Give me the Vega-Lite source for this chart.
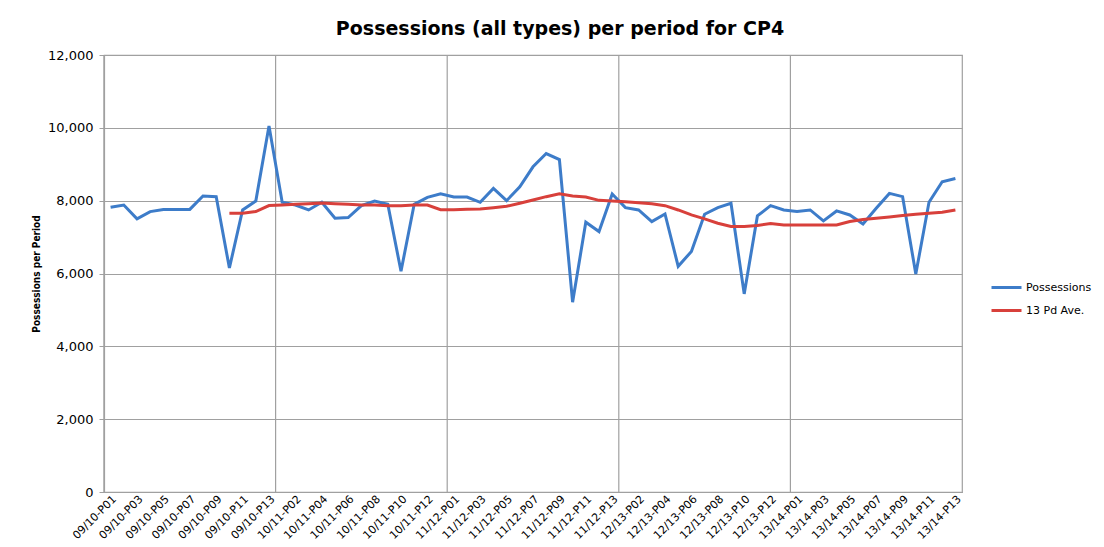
{
  "$schema": "https://vega.github.io/schema/vega-lite/v6.json",
  "autosize": {"type": "none"},
  "width": 858,
  "height": 437,
  "padding": {"left": 104, "top": 55, "right": 142, "bottom": 55},
  "background": "white",
  "title": {
    "text": "Possessions (all types) per period for CP4",
    "font": "DejaVu Sans",
    "fontSize": 19,
    "fontWeight": "bold",
    "color": "#000000",
    "anchor": "middle",
    "dx": 27,
    "offset": 10
  },
  "data": {
    "values": [
      {"period": "09/10-P01", "Possessions": 7818, "Ave": null},
      {"period": "09/10-P02", "Possessions": 7880, "Ave": null},
      {"period": "09/10-P03", "Possessions": 7500, "Ave": null},
      {"period": "09/10-P04", "Possessions": 7700, "Ave": null},
      {"period": "09/10-P05", "Possessions": 7760, "Ave": null},
      {"period": "09/10-P06", "Possessions": 7760, "Ave": null},
      {"period": "09/10-P07", "Possessions": 7760, "Ave": null},
      {"period": "09/10-P08", "Possessions": 8130, "Ave": null},
      {"period": "09/10-P09", "Possessions": 8110, "Ave": null},
      {"period": "09/10-P10", "Possessions": 6150, "Ave": 7655},
      {"period": "09/10-P11", "Possessions": 7745, "Ave": 7655},
      {"period": "09/10-P12", "Possessions": 7990, "Ave": 7700},
      {"period": "09/10-P13", "Possessions": 10050, "Ave": 7865},
      {"period": "10/11-P01", "Possessions": 7955, "Ave": 7880},
      {"period": "10/11-P02", "Possessions": 7880, "Ave": 7900},
      {"period": "10/11-P03", "Possessions": 7745, "Ave": 7918},
      {"period": "10/11-P04", "Possessions": 7955, "Ave": 7936},
      {"period": "10/11-P05", "Possessions": 7517, "Ave": 7918},
      {"period": "10/11-P06", "Possessions": 7535, "Ave": 7900},
      {"period": "10/11-P07", "Possessions": 7863, "Ave": 7880},
      {"period": "10/11-P08", "Possessions": 7990, "Ave": 7880},
      {"period": "10/11-P09", "Possessions": 7900, "Ave": 7863},
      {"period": "10/11-P10", "Possessions": 6060, "Ave": 7863},
      {"period": "10/11-P11", "Possessions": 7900, "Ave": 7880},
      {"period": "10/11-P12", "Possessions": 8090, "Ave": 7880},
      {"period": "10/11-P13", "Possessions": 8190, "Ave": 7754},
      {"period": "11/12-P01", "Possessions": 8100, "Ave": 7754},
      {"period": "11/12-P02", "Possessions": 8100, "Ave": 7763},
      {"period": "11/12-P03", "Possessions": 7955, "Ave": 7772},
      {"period": "11/12-P04", "Possessions": 8337, "Ave": 7808},
      {"period": "11/12-P05", "Possessions": 8000, "Ave": 7845},
      {"period": "11/12-P06", "Possessions": 8383, "Ave": 7927},
      {"period": "11/12-P07", "Possessions": 8930, "Ave": 8018},
      {"period": "11/12-P08", "Possessions": 9294, "Ave": 8110},
      {"period": "11/12-P09", "Possessions": 9130, "Ave": 8190},
      {"period": "11/12-P10", "Possessions": 5212, "Ave": 8127},
      {"period": "11/12-P11", "Possessions": 7408, "Ave": 8100},
      {"period": "11/12-P12", "Possessions": 7153, "Ave": 8009},
      {"period": "11/12-P13", "Possessions": 8182, "Ave": 7990},
      {"period": "12/13-P01", "Possessions": 7808, "Ave": 7973},
      {"period": "12/13-P02", "Possessions": 7745, "Ave": 7945},
      {"period": "12/13-P03", "Possessions": 7426, "Ave": 7918},
      {"period": "12/13-P04", "Possessions": 7636, "Ave": 7863},
      {"period": "12/13-P05", "Possessions": 6196, "Ave": 7745},
      {"period": "12/13-P06", "Possessions": 6606, "Ave": 7608},
      {"period": "12/13-P07", "Possessions": 7627, "Ave": 7500},
      {"period": "12/13-P08", "Possessions": 7808, "Ave": 7380},
      {"period": "12/13-P09", "Possessions": 7927, "Ave": 7290},
      {"period": "12/13-P10", "Possessions": 5440, "Ave": 7290},
      {"period": "12/13-P11", "Possessions": 7581, "Ave": 7317},
      {"period": "12/13-P12", "Possessions": 7863, "Ave": 7371},
      {"period": "12/13-P13", "Possessions": 7745, "Ave": 7335},
      {"period": "13/14-P01", "Possessions": 7700, "Ave": 7335},
      {"period": "13/14-P02", "Possessions": 7745, "Ave": 7335},
      {"period": "13/14-P03", "Possessions": 7444, "Ave": 7335},
      {"period": "13/14-P04", "Possessions": 7718, "Ave": 7335},
      {"period": "13/14-P05", "Possessions": 7608, "Ave": 7426},
      {"period": "13/14-P06", "Possessions": 7362, "Ave": 7480},
      {"period": "13/14-P07", "Possessions": 7790, "Ave": 7517},
      {"period": "13/14-P08", "Possessions": 8200, "Ave": 7554},
      {"period": "13/14-P09", "Possessions": 8110, "Ave": 7590},
      {"period": "13/14-P10", "Possessions": 5987, "Ave": 7627},
      {"period": "13/14-P11", "Possessions": 7955, "Ave": 7654},
      {"period": "13/14-P12", "Possessions": 8520, "Ave": 7681},
      {"period": "13/14-P13", "Possessions": 8610, "Ave": 7745}
    ]
  },
  "layer": [
    {
      "mark": {"type": "rule", "color": "#a0a0a0", "strokeWidth": 1.2},
      "encoding": {
        "x": {"field": "period", "type": "ordinal", "sort": null, "bandPosition": 0},
        "strokeOpacity": {
          "condition": {"test": "indexof(datum.period, '-P01') >= 0", "value": 1},
          "value": 0
        }
      }
    },
    {
      "transform": [
        {"fold": ["Possessions", "Ave"], "as": ["series", "value"]}
      ],
      "mark": {"type": "line", "strokeWidth": 3, "interpolate": "linear"},
      "encoding": {
        "x": {"field": "period", "type": "ordinal", "sort": null},
        "y": {
          "field": "value",
          "type": "quantitative",
          "scale": {"domain": [0, 12000], "nice": false, "zero": true},
          "axis": {
            "title": "Possessions per Period",
            "titleFont": "Liberation Sans Narrow, DejaVu Sans Condensed, Liberation Sans",
            "titleFontSize": 10,
            "titleFontWeight": "bold",
            "titleColor": "#000000",
            "titlePadding": 6,
            "values": [0, 2000, 4000, 6000, 8000, 10000, 12000],
            "format": ",d",
            "labelFont": "DejaVu Sans",
            "labelFontSize": 13,
            "labelColor": "#000000",
            "labelPadding": 6,
            "tickSize": 5,
            "tickColor": "#a0a0a0",
            "domainColor": "#a0a0a0",
            "domainWidth": 1.2,
            "grid": true,
            "gridColor": "#a0a0a0",
            "gridWidth": 1.2
          }
        },
        "color": {
          "field": "series",
          "type": "nominal",
          "scale": {"domain": ["Possessions", "Ave"], "range": ["#3d7cc9", "#d8403b"]},
          "legend": {
            "title": null,
            "orient": "none",
            "legendX": 886,
            "legendY": 216,
            "rowPadding": 0,
            "symbolType": "stroke",
            "symbolSize": 900,
            "symbolStrokeWidth": 3,
            "labelFont": "DejaVu Sans",
            "labelFontSize": 11,
            "labelColor": "#000000",
            "labelOffset": 3,
            "labelExpr": "datum.label == 'Ave' ? '13 Pd Ave.' : datum.label"
          }
        }
      }
    }
  ],
  "encoding": {
    "x": {
      "field": "period",
      "type": "ordinal",
      "sort": null,
      "scale": {"type": "band", "paddingInner": 0, "paddingOuter": 0},
      "axis": {
        "title": null,
        "labelAngle": -45,
        "labelFont": "DejaVu Sans",
        "labelFontSize": 11,
        "labelColor": "#000000",
        "labelPadding": 1,
        "labelOverlap": false,
        "labelExpr": "(toNumber(slice(datum.value,0,2)) + toNumber(slice(datum.value,7))) % 2 == 0 ? datum.label : ''",
        "ticks": false,
        "grid": false,
        "domain": true,
        "domainColor": "#a0a0a0",
        "domainWidth": 1.2
      }
    }
  },
  "config": {
    "view": {"stroke": "#a0a0a0", "strokeWidth": 1.2}
  }
}
